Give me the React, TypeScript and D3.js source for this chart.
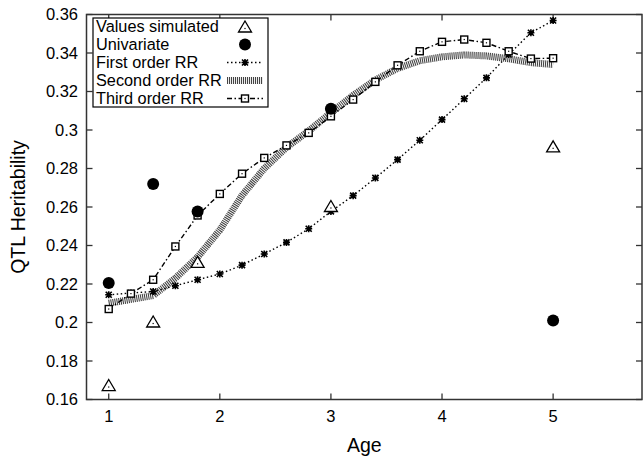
import * as d3 from 'd3';

// ages used by the regression curves
const curveAges = [1, 1.2, 1.4, 1.6, 1.8, 2, 2.2, 2.4, 2.6, 2.8, 3, 3.2, 3.4, 3.6, 3.8, 4, 4.2, 4.4, 4.6, 4.8, 5];
const pointAges = [1, 1.4, 1.8, 3, 5];

const simulated = [0.167, 0.2, 0.231, 0.26, 0.291];
const univariate = [0.2205, 0.272, 0.2577, 0.311, 0.201];
const firstOrder = [0.2144, 0.2153, 0.2161, 0.2191, 0.2222, 0.2252, 0.2298, 0.2356, 0.2416, 0.2487, 0.2577,
  0.2659, 0.2751, 0.2846, 0.2947, 0.3054, 0.3162, 0.3271, 0.3392, 0.3505, 0.3569];
const secondOrder = [0.21, 0.212, 0.214, 0.223, 0.234, 0.248, 0.266, 0.28, 0.291, 0.2995, 0.309,
  0.318, 0.326, 0.332, 0.336, 0.338, 0.339, 0.3385, 0.337, 0.335, 0.334];
const thirdOrder = [0.207, 0.215, 0.2222, 0.2395, 0.2556, 0.2668, 0.2773, 0.2855, 0.292, 0.2985, 0.3071,
  0.3158, 0.325, 0.3336, 0.3409, 0.3458, 0.347, 0.3453, 0.3409, 0.3371, 0.3373];

const xTicks = [1, 2, 3, 4, 5];
const yTicks = [0.16, 0.18, 0.2, 0.22, 0.24, 0.26, 0.28, 0.3, 0.32, 0.34, 0.36];
const legendLabels = ['Values simulated', 'Univariate', 'First order RR', 'Second order RR', 'Third order RR'];

const W = 643;
const H = 457;
const left = 86.5, right = 642, top = 14.5, bottom = 399.5;
const font = '"Liberation Sans", Arial, Helvetica, sans-serif';
const frameColor = '#333';

const x = d3.scaleLinear().domain([0.8, 5.8]).range([left, right]);
const y = d3.scaleLinear().domain([0.16, 0.36]).range([bottom, top]);

const Triangle = ({ cx, cy }: { cx: number; cy: number }) => (
  <g>
    <path d={`M${cx},${cy - 6.5} L${cx + 6.5},${cy + 4.5} L${cx - 6.5},${cy + 4.5} Z`}
      fill="white" stroke="black" strokeWidth={1.3} />
    <rect x={cx - 0.6} y={cy + 0.4} width={1.2} height={1.2} fill="black" />
  </g>
);

const Circle = ({ cx, cy }: { cx: number; cy: number }) => (
  <circle cx={cx} cy={cy} r={6} fill="black" />
);

const Star = ({ cx, cy }: { cx: number; cy: number }) => (
  <path d={`M${cx - 3.5},${cy} H${cx + 3.5} M${cx},${cy - 3.5} V${cy + 3.5}
    M${cx - 3},${cy - 3} L${cx + 3},${cy + 3} M${cx - 3},${cy + 3} L${cx + 3},${cy - 3}`}
    stroke="black" strokeWidth={1.6} fill="none" />
);

const Square = ({ cx, cy }: { cx: number; cy: number }) => (
  <g>
    <rect x={cx - 3.5} y={cy - 3.5} width={7} height={7} fill="white" stroke="black" strokeWidth={1.4} />
    <rect x={cx - 0.6} y={cy - 0.6} width={1.2} height={1.2} fill="black" />
  </g>
);

const firstDash = '1.5,2.5';
const thirdDash = '5,2.5,1.5,2.5';
const secondDash = '1.1,0.9';

export default function App() {
  const line = d3.line<number>()
    .x((_, i) => x(curveAges[i]))
    .y(d => y(d));

  const legendTop = 26.5;
  const rowH = 18;
  const sx0 = 227, sx1 = 263, sm = 245;

  return (
    <div style={{ position: 'fixed', left: 0, top: 0, background: 'white' }}>
      <svg width={W} height={H} style={{ display: 'block', fontFamily: font }}>
        <rect width={W} height={H} fill="white" />

        {/* ticks */}
        {xTicks.map(t => (
          <g key={'x' + t}>
            <line x1={x(t)} x2={x(t)} y1={bottom} y2={bottom - 6} stroke={frameColor} strokeWidth={1.3} />
            <line x1={x(t)} x2={x(t)} y1={top} y2={top + 6} stroke={frameColor} strokeWidth={1.3} />
            <text x={x(t)} y={422} textAnchor="middle" fontSize={16.5} fill="black">{t}</text>
          </g>
        ))}
        {yTicks.map(t => (
          <g key={'y' + t}>
            <line x1={left} x2={left + 6} y1={y(t)} y2={y(t)} stroke={frameColor} strokeWidth={1.3} />
            <line x1={right} x2={right - 6} y1={y(t)} y2={y(t)} stroke={frameColor} strokeWidth={1.3} />
            <text x={78} y={y(t)} dy="0.36em" textAnchor="end" fontSize={16.5} fill="black">
              {String(+t.toFixed(2))}
            </text>
          </g>
        ))}

        {/* frame */}
        <rect x={left} y={top} width={right - left} height={bottom - top} fill="none"
          stroke={frameColor} strokeWidth={1.5} />

        <text x={(left + right) / 2} y={452} textAnchor="middle" fontSize={19.5} fill="black">Age</text>
        <text transform={`translate(25,${(top + bottom) / 2}) rotate(-90)`} textAnchor="middle"
          fontSize={19.5} fill="black">QTL Heritability</text>

        {/* second order RR: thick hatched line */}
        <path d={line(secondOrder) || ''} fill="none" stroke="#444" strokeWidth={7}
          strokeDasharray={secondDash} />

        {/* first order RR */}
        <path d={line(firstOrder) || ''} fill="none" stroke="black" strokeWidth={1.4}
          strokeDasharray={firstDash} />
        {firstOrder.map((v, i) => <Star key={'f' + i} cx={x(curveAges[i])} cy={y(v)} />)}

        {/* third order RR */}
        <path d={line(thirdOrder) || ''} fill="none" stroke="black" strokeWidth={1.4}
          strokeDasharray={thirdDash} />
        {thirdOrder.map((v, i) => <Square key={'t' + i} cx={x(curveAges[i])} cy={y(v)} />)}

        {univariate.map((v, i) => <Circle key={'u' + i} cx={x(pointAges[i])} cy={y(v)} />)}
        {simulated.map((v, i) => <Triangle key={'s' + i} cx={x(pointAges[i])} cy={y(v)} />)}

        {/* legend */}
        <rect x={93} y={18} width={175} height={89} fill="white" stroke="black" strokeWidth={1.2} />
        {legendLabels.map((label, i) => (
          <text key={label} x={96} y={legendTop + i * rowH} dy="0.36em" fontSize={16.3} fill="black">{label}</text>
        ))}
        <Triangle cx={sm} cy={legendTop + 1} />
        <Circle cx={sm} cy={legendTop + rowH} />
        <line x1={sx0} x2={sx1} y1={legendTop + 2 * rowH} y2={legendTop + 2 * rowH} stroke="black"
          strokeWidth={1.4} strokeDasharray={firstDash} />
        <Star cx={sm} cy={legendTop + 2 * rowH} />
        <line x1={sx0} x2={sx1} y1={legendTop + 3 * rowH} y2={legendTop + 3 * rowH} stroke="#444"
          strokeWidth={7} strokeDasharray={secondDash} />
        <line x1={sx0} x2={sx1} y1={legendTop + 4 * rowH} y2={legendTop + 4 * rowH} stroke="black"
          strokeWidth={1.4} strokeDasharray={thirdDash} />
        <Square cx={sm} cy={legendTop + 4 * rowH} />
      </svg>
    </div>
  );
}
